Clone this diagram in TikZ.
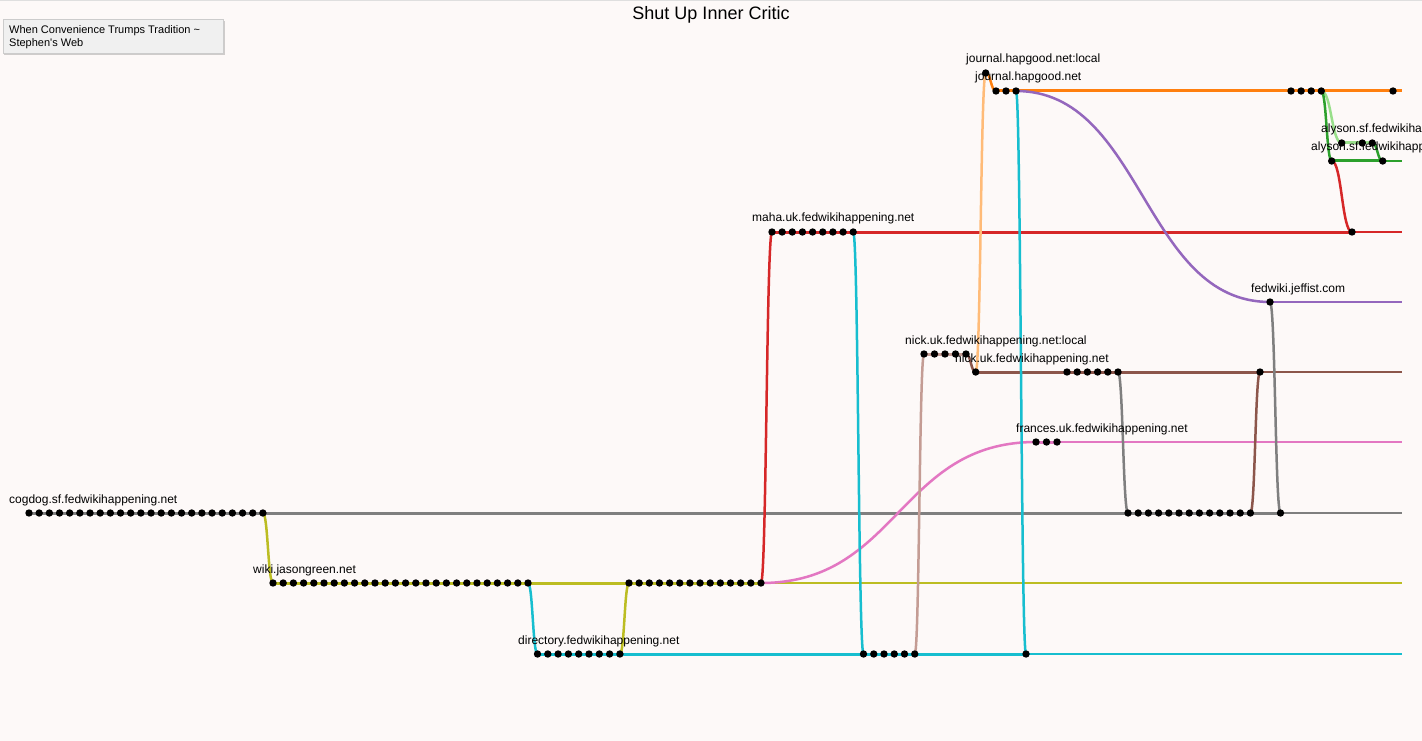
\documentclass[tikz,border=0pt]{standalone}
\usepackage{fontspec}
\setmainfont{Liberation Sans}
\usetikzlibrary{calc}

\definecolor{pagebg}{HTML}{FDF9F8}
\definecolor{cogGray}{HTML}{7F7F7F}
\definecolor{wikiOlive}{HTML}{BCBD22}
\definecolor{dirCyan}{HTML}{17BECF}
\definecolor{mahaRed}{HTML}{D62728}
\definecolor{nickBrown}{HTML}{8C564B}
\definecolor{nickLocal}{HTML}{C49C94}
\definecolor{jourOrange}{HTML}{FF7F0E}
\definecolor{jourLocal}{HTML}{FFBB78}
\definecolor{jeffPurple}{HTML}{9467BD}
\definecolor{franPink}{HTML}{E377C2}
\definecolor{alyGreen}{HTML}{2CA02C}
\definecolor{alyLocal}{HTML}{98DF8A}

\tikzset{
  trail/.style={line width=3pt},
  hop/.style={line width=2.5pt},
  siteline/.style={line width=1.3pt},
  sitelabel/.style={anchor=base west,inner sep=0pt,font=\fontsize{12}{14}\selectfont},
}

% horizontal d3-style link from one visit to another
\newcommand{\hlink}[3]{%
  \draw[#1,hop] let \p1=(#2), \p2=(#3) in
    (\p1) .. controls ({(\x1+\x2)/2},\y1) and ({(\x1+\x2)/2},\y2) .. (\p2);}

\begin{document}
\begin{tikzpicture}[x=1pt,y=-1pt]
  \useasboundingbox (0,0) rectangle (1422,741);
  \clip (0,0) rectangle (1422,741);
  \fill[pagebg] (0,0) rectangle (1422,741);
  \draw[gray!25,line width=1pt] (0,0.5) -- (1422,0.5);

  % visits of the page on each site
  \foreach \i in {1,...,24} \coordinate (cog-a\i) at ({29+(\i-1)*10.17},513);
  \foreach \i in {1,...,13} \coordinate (cog-b\i) at ({1128+(\i-1)*10.2},513);
  \coordinate (cogz) at (1280.5,513);
  \foreach \i in {1,...,26} \coordinate (wiki-a\i) at ({273+(\i-1)*10.2},583);
  \foreach \i in {1,...,14} \coordinate (wiki-b\i) at ({629+(\i-1)*10.15},583);
  \foreach \i in {1,...,9} \coordinate (dir-a\i) at ({537.5+(\i-1)*10.3},654);
  \foreach \i in {1,...,6} \coordinate (dir-b\i) at ({863.5+(\i-1)*10.25},654);
  \coordinate (dirz) at (1026,654);
  \foreach \i in {1,...,9} \coordinate (maha\i) at ({772+(\i-1)*10.15},232);
  \coordinate (mahaz) at (1352,232);
  \coordinate (jloc) at (985.7,73);
  \foreach \i in {1,...,3} \coordinate (jour-a\i) at ({996+(\i-1)*10},91);
  \foreach \i in {1,...,4} \coordinate (jour-b\i) at ({1291+(\i-1)*10.1},91);
  \coordinate (jourz) at (1393,91);
  \foreach \i in {1,...,5} \coordinate (nloc\i) at ({924+(\i-1)*10.5},354);
  \coordinate (nicka) at (975.7,372);
  \foreach \i in {1,...,6} \coordinate (nick-b\i) at ({1067+(\i-1)*10.2},372);
  \coordinate (nickz) at (1260,372);
  \foreach \i in {1,...,3} \coordinate (fran\i) at ({1036+(\i-1)*10.5},442);
  \coordinate (jeff) at (1270,302);
  \coordinate (aloc1) at (1341.7,143);
  \coordinate (aloc2) at (1362.3,143);
  \coordinate (aloc3) at (1372.3,143);
  \coordinate (aly1) at (1331.7,161);
  \coordinate (aly2) at (1382.7,161);

  \coordinate (cogEnd) at (1402,513);
  \coordinate (wikiEnd) at (1402,583);
  \coordinate (dirEnd) at (1402,654);
  \coordinate (mahaEnd) at (1402,232);
  \coordinate (jourEnd) at (1402,91);
  \coordinate (nickEnd) at (1402,372);
  \coordinate (franEnd) at (1402,442);
  \coordinate (jeffEnd) at (1402,302);
  \coordinate (alyEnd) at (1402,161);

  % site lines, thin past the last visit
  \draw[cogGray,siteline] (cogz) -- (cogEnd);
  \draw[wikiOlive,siteline] (wiki-b14) -- (wikiEnd);
  \draw[dirCyan,line width=2.2pt] (dirz) -- (dirEnd);
  \draw[mahaRed,siteline] (mahaz) -- (mahaEnd);
  \draw[nickBrown,siteline] (nickz) -- (nickEnd);
  \draw[franPink,siteline] (fran3) -- (franEnd);
  \draw[jeffPurple,siteline] (jeff) -- (jeffEnd);
  \draw[alyGreen,siteline] (aly2) -- (alyEnd);
  % thick trails while the page stays on a site
  \draw[cogGray,trail] (cog-a1) -- (cogz);
  \draw[wikiOlive,trail] (wiki-a1) -- (wiki-b14);
  \draw[dirCyan,trail] (dir-a1) -- (dirz);
  \draw[mahaRed,trail] (maha1) -- (mahaz);
  \draw[jourOrange,trail] (jour-a1) -- (jourEnd);
  \draw[nickLocal,trail] (nloc1) -- (nloc5);
  \draw[nickBrown,trail] (nicka) -- (nickz);
  \draw[franPink,trail] (fran1) -- (fran3);
  \draw[alyLocal,trail] (aloc1) -- (aloc3);
  \draw[alyGreen,trail] (aly1) -- (aly2);

  % forks from site to site
  \hlink{wikiOlive}{cog-a24}{wiki-a1}
  \hlink{dirCyan}{wiki-a26}{dir-a1}
  \hlink{wikiOlive}{dir-a9}{wiki-b1}
  \hlink{mahaRed}{wiki-b14}{maha1}
  \hlink{franPink}{wiki-b14}{fran1}
  \hlink{dirCyan}{maha9}{dir-b1}
  \hlink{nickLocal}{dir-b6}{nloc1}
  \hlink{nickBrown}{nloc5}{nicka}
  \hlink{jourLocal}{nicka}{jloc}
  \hlink{jourOrange}{jloc}{jour-a1}
  \hlink{dirCyan}{jour-a3}{dirz}
  \hlink{jeffPurple}{jour-a3}{jeff}
  \hlink{cogGray}{nick-b6}{cog-b1}
  \hlink{nickBrown}{cog-b13}{nickz}
  \hlink{cogGray}{jeff}{cogz}
  \hlink{alyLocal}{jour-b4}{aloc1}
  \hlink{alyGreen}{jour-b4}{aly1}
  \hlink{alyGreen}{aloc3}{aly2}
  \hlink{mahaRed}{aly1}{mahaz}

  % dots on top of the lines
  \foreach \i in {1,...,24} \fill (cog-a\i) circle (3.7pt);
  \foreach \i in {1,...,13} \fill (cog-b\i) circle (3.7pt);
  \foreach \i in {1,...,26} \fill (wiki-a\i) circle (3.7pt);
  \foreach \i in {1,...,14} \fill (wiki-b\i) circle (3.7pt);
  \foreach \i in {1,...,9} \fill (dir-a\i) circle (3.7pt);
  \foreach \i in {1,...,6} \fill (dir-b\i) circle (3.7pt);
  \foreach \i in {1,...,9} \fill (maha\i) circle (3.7pt);
  \foreach \i in {1,...,3} \fill (jour-a\i) circle (3.7pt);
  \foreach \i in {1,...,4} \fill (jour-b\i) circle (3.7pt);
  \foreach \i in {1,...,5} \fill (nloc\i) circle (3.7pt);
  \foreach \i in {1,...,6} \fill (nick-b\i) circle (3.7pt);
  \foreach \i in {1,...,3} \fill (fran\i) circle (3.7pt);
  \foreach \n in {cogz,dirz,mahaz,jloc,jourz,nicka,nickz,jeff,aloc1,aloc2,aloc3,aly1,aly2}
    \fill (\n) circle (3.7pt);

  % site names
  \node[sitelabel] (cogLabel) at (9,503) {cogdog.sf.fedwikihappening.net};
  \node[sitelabel] (wikiLabel) at (253,573) {wiki.jasongreen.net};
  \node[sitelabel] (dirLabel) at (518,644) {directory.fedwikihappening.net};
  \node[sitelabel] (mahaLabel) at (752,222) {maha.uk.fedwikihappening.net};
  \node[sitelabel] (jlocLabel) at (966,63) {journal.hapgood.net:local};
  \node[sitelabel] (jourLabel) at (975,81) {journal.hapgood.net};
  \node[sitelabel] (nlocLabel) at (905,344) {nick.uk.fedwikihappening.net:local};
  \node[sitelabel] (nickLabel) at (955,362) {nick.uk.fedwikihappening.net};
  \node[sitelabel] (franLabel) at (1016,432) {frances.uk.fedwikihappening.net};
  \node[sitelabel] (jeffLabel) at (1251,292) {fedwiki.jeffist.com};
  \node[sitelabel] (alocLabel) at (1321,133) {alyson.sf.fedwikihappening.net:local};
  \node[sitelabel] (alyLabel) at (1311,151) {alyson.sf.fedwikihappening.net};

  % title and source box
  \node[anchor=base,inner sep=0pt,font=\fontsize{18}{20}\selectfont] (title) at (711,20) {Shut Up Inner Critic};
  \fill[black,opacity=0.18] (4,21) rectangle (225,55);
  \draw[gray!40,fill=gray!12] (3,19) rectangle (223,53);
  \node[anchor=base west,inner sep=0pt,font=\fontsize{11}{13}\selectfont] (srcA) at (9,33.3) {When Convenience Trumps Tradition \textasciitilde};
  \node[anchor=base west,inner sep=0pt,font=\fontsize{11}{13}\selectfont] (srcB) at (9,46.7) {Stephen\textquotesingle s Web};
\end{tikzpicture}
\end{document}
